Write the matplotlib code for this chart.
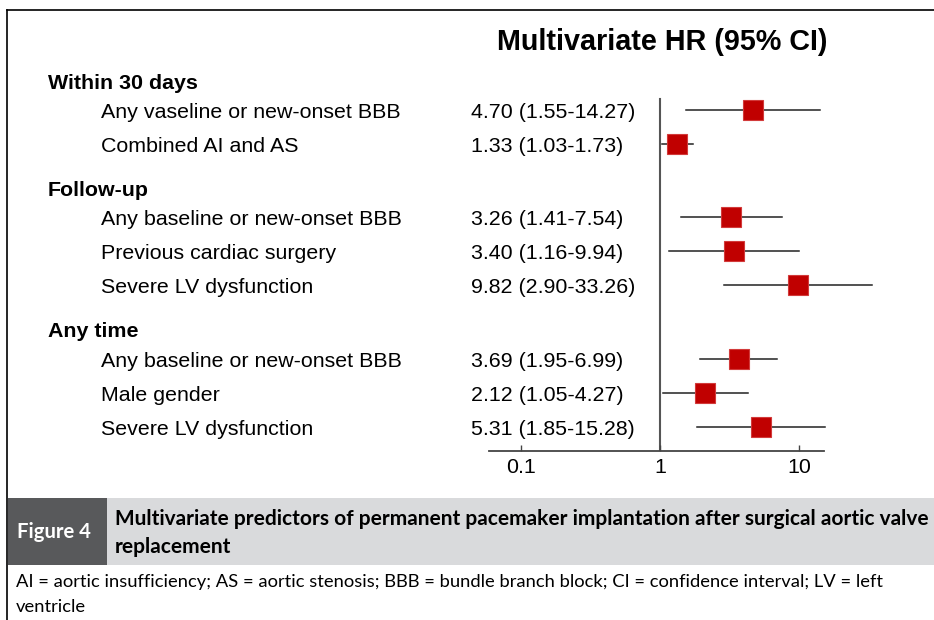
import matplotlib
matplotlib.use("Agg")
import matplotlib.pyplot as plt
import matplotlib.transforms as mtransforms
from matplotlib.patches import Rectangle
from matplotlib.lines import Line2D

# forest plot data, grouped by time window
groups = ["Within 30 days", "Follow-up", "Any time"]
group_sizes = [2, 3, 3]
labels = [
    "Any vaseline or new-onset BBB",
    "Combined AI and AS",
    "Any baseline or new-onset BBB",
    "Previous cardiac surgery",
    "Severe LV dysfunction",
    "Any baseline or new-onset BBB",
    "Male gender",
    "Severe LV dysfunction",
]
hr = [4.70, 1.33, 3.26, 3.40, 9.82, 3.69, 2.12, 5.31]
ci_low = [1.55, 1.03, 1.41, 1.16, 2.90, 1.95, 1.05, 1.85]
ci_high = [14.27, 1.73, 7.54, 9.94, 33.26, 6.99, 4.27, 15.28]
x_ticks = [0.1, 1, 10]
x_tick_labels = ["0.1", "1", "10"]

W, H = 934, 620
DPI = 100
SANS = "Liberation Sans"
CAP = "Lato"
FS = 15.4
BASE = 0.23  # baseline drop (in row units) so caps sit centred on the row

fig = plt.figure(figsize=(W / DPI, H / DPI), dpi=DPI)


def fx(px):
    return px / W


def fy(py):
    return 1 - py / H


# row slots: each header sits above its first row, extra gap between groups
row_y, head_y = [], []
start = 0.0
for n in group_sizes:
    head_y.append(start - 0.86)
    for k in range(n):
        row_y.append(start + k)
    start = row_y[-1] + 2.16

ax_left, ax_right, ax_top, ax_bot = 489, 824, 60, 450.7
ax = fig.add_axes([fx(ax_left), fy(ax_bot), (ax_right - ax_left) / W, (ax_bot - ax_top) / H])
ax.set_xscale("log")
ax.set_xlim(10 ** ((ax_left - 660) / 139), 10 ** ((ax_right - 660) / 139))
ax.set_ylim((ax_bot - 110) / 34, (ax_top - 110) / 34)
ax.patch.set_alpha(0)

for s in ["top", "right", "left"]:
    ax.spines[s].set_visible(False)
ax.spines["bottom"].set_color("#444444")
ax.spines["bottom"].set_linewidth(1.3)
ax.set_yticks([])
ax.set_xticks(x_ticks)
ax.set_xticklabels(x_tick_labels, fontsize=FS, fontfamily=SANS)
ax.xaxis.set_minor_locator(matplotlib.ticker.NullLocator())
ax.tick_params(axis="x", direction="in", length=4, width=1, color="#444444", pad=5)

ax.plot([1, 1], [ax.get_ylim()[0], (99 - 110) / 34], color="#555555", lw=1.5, zorder=1)

for yy, h, lo, hi in zip(row_y, hr, ci_low, ci_high):
    ax.plot([lo, hi], [yy, yy], color="#222222", lw=1.1, zorder=2, clip_on=False)
    ax.plot([h], [yy], marker="s", markersize=15, markerfacecolor="#c00000",
            markeredgecolor="#d23a3a", markeredgewidth=0.8, zorder=3, clip_on=False)

trans = mtransforms.blended_transform_factory(fig.transFigure, ax.transData)
for yy, lab, h, lo, hi in zip(row_y, labels, hr, ci_low, ci_high):
    ax.text(fx(101), yy + BASE, lab, transform=trans, fontsize=FS, fontfamily=SANS,
            va="baseline", ha="left", clip_on=False)
    ax.text(fx(471), yy + BASE, f"{h:.2f} ({lo:.2f}-{hi:.2f})", transform=trans,
            fontsize=FS, fontfamily=SANS, va="baseline", ha="left", clip_on=False)
for yy, g in zip(head_y, groups):
    ax.text(fx(48), yy + BASE, g, transform=trans, fontsize=FS, fontweight="bold",
            fontfamily=SANS, va="baseline", ha="left", clip_on=False)

fig.text(fx(662), fy(42), "Multivariate HR (95% CI)", fontsize=20.7, fontweight="bold",
         fontfamily=SANS, ha="center", va="center")

# caption panel
fig.patches.append(Rectangle((fx(8), fy(565)), 1 - fx(8), (565 - 498) / H,
                             transform=fig.transFigure, facecolor="#d9dadc",
                             edgecolor="none", zorder=0))
fig.patches.append(Rectangle((fx(8), fy(565)), (107 - 8) / W, (565 - 498) / H,
                             transform=fig.transFigure, facecolor="#58595b",
                             edgecolor="none", zorder=0))
fig.text(fx(54), fy(532), "Figure 4", color="white", fontsize=14.6, fontweight="bold",
         fontfamily=CAP, ha="center", va="center")
fig.text(fx(115), fy(519), "Multivariate predictors of permanent pacemaker implantation after surgical aortic valve",
         fontsize=15, fontweight="bold", fontfamily=CAP, ha="left", va="center")
fig.text(fx(115), fy(547), "replacement", fontsize=15, fontweight="bold",
         fontfamily=CAP, ha="left", va="center")
fig.text(fx(16), fy(582),
         "AI = aortic insufficiency; AS = aortic stenosis; BBB = bundle branch block; CI = confidence interval; LV = left",
         fontsize=13.2, fontfamily=CAP, ha="left", va="center")
fig.text(fx(16), fy(607), "ventricle", fontsize=13.2, fontfamily=CAP, ha="left", va="center")

# frame around the figure
fig.lines.append(Line2D([fx(7), 1], [fy(10), fy(10)], transform=fig.transFigure,
                        color="black", lw=1.2))
fig.lines.append(Line2D([fx(7), fx(7)], [fy(10), 0], transform=fig.transFigure,
                        color="black", lw=1.2))

fig.savefig("out.png", dpi=DPI)
